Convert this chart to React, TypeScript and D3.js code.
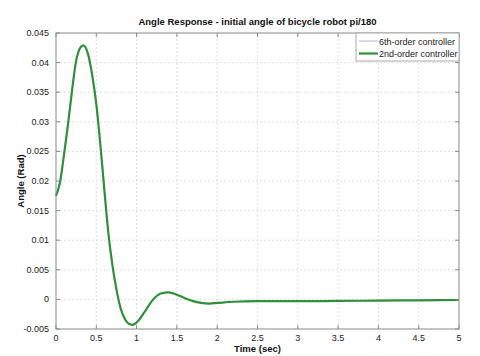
import React from 'react'
import * as d3 from 'd3'

// readings taken off the reference plot
const times = [0, 0.05, 0.1, 0.15, 0.2, 0.25, 0.3, 0.34, 0.4, 0.45, 0.5, 0.55, 0.6, 0.65, 0.7, 0.75, 0.8, 0.85, 0.9, 0.95, 1.0, 1.1, 1.2, 1.3, 1.4, 1.5, 1.6, 1.7, 1.8, 1.9, 2.0, 2.2, 2.5, 3.0, 3.5, 4.0, 4.5, 5.0]
const secondOrder = [0.0175, 0.0198, 0.0245, 0.0297, 0.0354, 0.0403, 0.0425, 0.0429, 0.0413, 0.0378, 0.0330, 0.0262, 0.0185, 0.0112, 0.0058, 0.0017, -0.0014, -0.0032, -0.0041, -0.0043, -0.0039, -0.0021, -0.0001, 0.0010, 0.0012, 0.0008, 0.0002, -0.0003, -0.0006, -0.0007, -0.0006, -0.0004, -0.0003, -0.0003, -0.00025, -0.0002, -0.00015, -0.0001]
const sixthOrder = [0.0175, 0.0198, 0.0245, 0.0297, 0.0354, 0.0403, 0.0425, 0.0429, 0.0413, 0.0378, 0.0330, 0.0262, 0.0185, 0.0112, 0.0058, 0.0017, -0.0014, -0.0032, -0.0041, -0.0043, -0.0039, -0.0021, -0.0001, 0.0010, 0.0012, 0.0008, 0.0002, -0.0003, -0.0006, -0.0007, -0.0006, -0.0004, -0.0003, -0.0003, -0.00025, -0.0002, -0.00015, -0.0001]

const xTicks = [0, 0.5, 1, 1.5, 2, 2.5, 3, 3.5, 4, 4.5, 5]
const yTicks = [-0.005, 0, 0.005, 0.01, 0.015, 0.02, 0.025, 0.03, 0.035, 0.04, 0.045]
const seriesNames = ['6th-order controller', '2nd-order controller']
const seriesColors = ['#b4b4e6', '#2f8f3a']

const W = 480
const H = 356
const m = { left: 56, right: 21, top: 33, bottom: 27 }
const font = 'Liberation Sans, Arial, Helvetica, sans-serif'

const fmt = (v: number) => String(+v.toFixed(4))

const App = () => {
  const x = d3.scaleLinear().domain([0, 5]).range([m.left, W - m.right])
  const y = d3.scaleLinear().domain([-0.005, 0.045]).range([H - m.bottom, m.top])

  const line = d3.line<number>()
    .x((d, i) => x(times[i]))
    .y(d => y(d))
    .curve(d3.curveMonotoneX)

  const [x0, x1] = x.range()
  const [y0, y1] = y.range()
  const tl = 4

  // legend placement
  const lgW = 103
  const lgX = x1 - lgW
  const lgY = y1
  const lgH = 28

  return (
    <div style={{ position: 'absolute', left: 0, top: 0 }}>
      <svg width={W} height={H} style={{ display: 'block', background: '#fff' }} fontFamily={font}>
        {/* grid */}
        {xTicks.slice(1, -1).map(t => (
          <line key={'gx' + t} x1={x(t)} x2={x(t)} y1={y0} y2={y1} stroke="#d8d8d8" strokeWidth={0.8} strokeDasharray="2,2" />
        ))}
        {yTicks.slice(1, -1).map(t => (
          <line key={'gy' + t} x1={x0} x2={x1} y1={y(t)} y2={y(t)} stroke="#d8d8d8" strokeWidth={0.8} strokeDasharray="2,2" />
        ))}

        {/* series */}
        <path d={line(sixthOrder) || ''} fill="none" stroke={seriesColors[0]} strokeWidth={1} />
        <path d={line(secondOrder) || ''} fill="none" stroke={seriesColors[1]} strokeWidth={2.2} />

        {/* frame and inward ticks */}
        <rect x={x0} y={y1} width={x1 - x0} height={y0 - y1} fill="none" stroke="#8a8a8a" strokeWidth={1} />
        {xTicks.map(t => (
          <g key={'tx' + t}>
            <line x1={x(t)} x2={x(t)} y1={y0} y2={y0 - tl} stroke="#8a8a8a" />
            <line x1={x(t)} x2={x(t)} y1={y1} y2={y1 + tl} stroke="#8a8a8a" />
            <text x={x(t)} y={y0 + 12} textAnchor="middle" fontSize={9} fill="#222">{fmt(t)}</text>
          </g>
        ))}
        {yTicks.map(t => (
          <g key={'ty' + t}>
            <line x1={x0} x2={x0 + tl} y1={y(t)} y2={y(t)} stroke="#8a8a8a" />
            <line x1={x1} x2={x1 - tl} y1={y(t)} y2={y(t)} stroke="#8a8a8a" />
            <text x={x0 - 7} y={y(t) + 3} textAnchor="end" fontSize={9} fill="#222">{fmt(t)}</text>
          </g>
        ))}

        {/* legend */}
        <rect x={lgX} y={lgY} width={lgW} height={lgH} fill="#fff" stroke="#aaa" strokeWidth={1} />
        {seriesNames.map((name, i) => (
          <g key={name}>
            <line x1={lgX + 3} x2={lgX + 22} y1={lgY + 8 + i * 12.5} y2={lgY + 8 + i * 12.5}
              stroke={seriesColors[i]} strokeWidth={i === 0 ? 1 : 2.2} />
            <text x={lgX + 23} y={lgY + 11.5 + i * 12.5} fontSize={9} fill="#222">{name}</text>
          </g>
        ))}

        {/* titles */}
        <text x={(x0 + x1) / 2} y={25} textAnchor="middle" fontSize={9.5} fontWeight="bold" fill="#111">
          Angle Response - initial angle of bicycle robot pi/180
        </text>
        <text x={(x0 + x1) / 2} y={352} textAnchor="middle" fontSize={9.5} fontWeight="bold" fill="#111">Time (sec)</text>
        <text transform={`translate(24,${(y0 + y1) / 2}) rotate(-90)`} textAnchor="middle" fontSize={9.5} fontWeight="bold" fill="#111">Angle (Rad)</text>
      </svg>
    </div>
  )
}

export default App
